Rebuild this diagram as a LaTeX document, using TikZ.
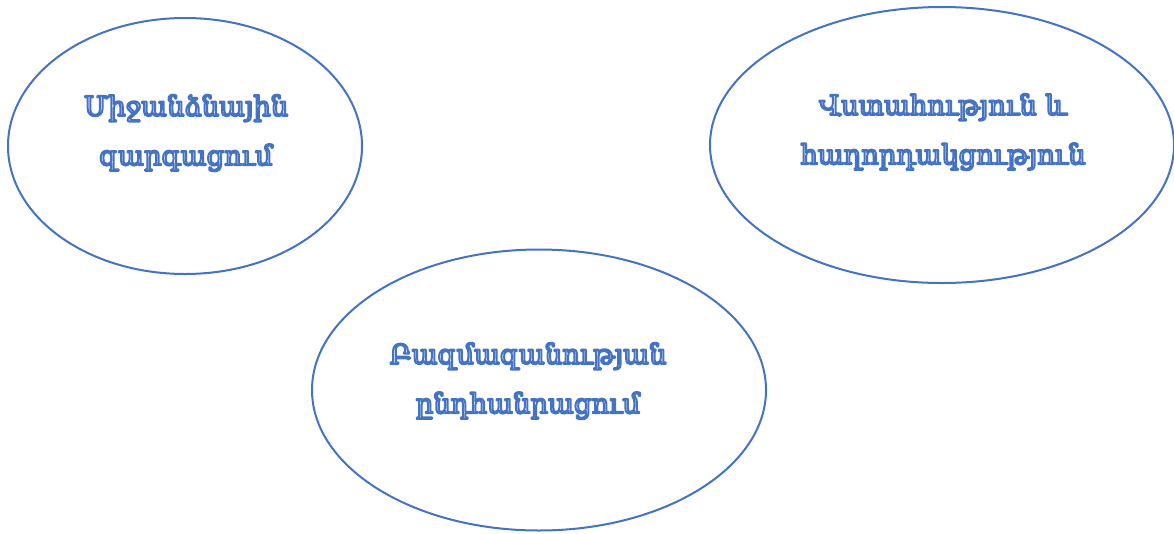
\documentclass[tikz,border=0pt]{standalone}
\usepackage{fontspec}
\usetikzlibrary{shapes.geometric}
\newfontfamily\armfont{DejaVu Serif}
\definecolor{myblue}{HTML}{4472C4}
\newcommand{\outl}[1]{\special{pdf:code q 2 Tr 1.5 w 1 j 0.267 0.447 0.769 RG 1 1 1 rg}#1\special{pdf:code Q}}
\begin{document}
\begin{tikzpicture}[x=0.75pt,y=-0.75pt,
  oval/.style={draw=myblue,line width=1.5pt,ellipse,inner sep=0pt},
  lbl/.style={align=center,text=white,font=\armfont\fontsize{20.5}{37}\selectfont}]
\useasboundingbox (0,0) rectangle (1174,533);
\node[oval,minimum width=265.5pt,minimum height=192pt] (e1) at (185,146) {};
\node[oval,minimum width=348pt,minimum height=207pt] (e2) at (942,145) {};
\node[oval,minimum width=340.5pt,minimum height=210.75pt] (e3) at (539,390) {};
\node[lbl] (t1) at (186,133) {\outl{Միջանձնային}\\\outl{զարգացում}};
\node[lbl] (t2) at (943,132) {\outl{Վստահություն և}\\\outl{հաղորդակցություն}};
\node[lbl] (t3) at (528,381) {\outl{Բազմազանության}\\\outl{ընդհանրացում}};
\end{tikzpicture}
\end{document}
